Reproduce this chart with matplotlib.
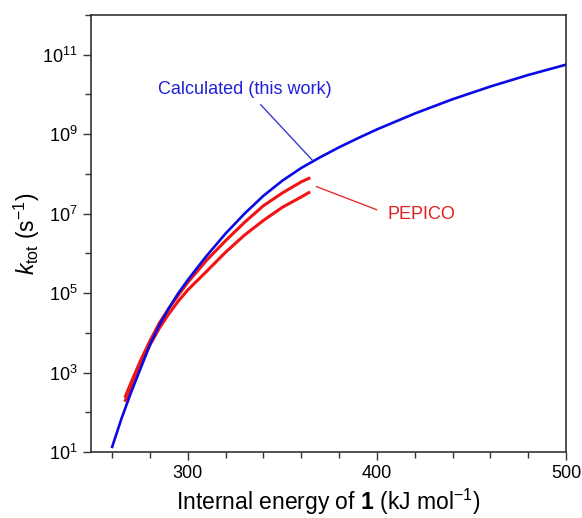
import matplotlib
matplotlib.use("Agg")
import matplotlib.pyplot as plt
from matplotlib.ticker import FixedLocator, LogFormatterMathtext, MultipleLocator

plt.rcParams['font.family'] = ['Liberation Sans', 'DejaVu Sans']
plt.rcParams['mathtext.fontset'] = 'custom'
plt.rcParams['mathtext.rm'] = 'Liberation Sans'
plt.rcParams['mathtext.it'] = 'Liberation Sans:italic'
plt.rcParams['mathtext.bf'] = 'Liberation Sans:bold'

# calculated k_tot (this work), log10 values
calc_E = [260, 265, 270, 275, 280, 285, 290, 295, 300, 305, 310, 320, 330, 340,
          350, 360, 370, 380, 390, 400, 420, 440, 460, 480, 500]
calc_logk = [1.13, 1.85, 2.5, 3.1, 3.7, 4.2, 4.62, 5.0, 5.33, 5.64, 5.94, 6.5, 7.0, 7.45,
             7.83, 8.15, 8.42, 8.67, 8.9, 9.12, 9.52, 9.88, 10.2, 10.49, 10.75]

# PEPICO curves
pep_E = [267, 270, 275, 280, 285, 290, 295, 300, 310, 320, 330, 340, 350, 360, 364]
pep_hi = [2.4, 2.75, 3.3, 3.8, 4.25, 4.62, 4.95, 5.27, 5.83, 6.32, 6.78, 7.2, 7.52, 7.8, 7.89]
pep_lo = [2.3, 2.65, 3.2, 3.7, 4.12, 4.48, 4.8, 5.08, 5.55, 6.03, 6.46, 6.83, 7.16, 7.42, 7.53]

blue = '#0a0ae6'
red = '#f01414'

fig = plt.figure(figsize=(5.82, 5.18), dpi=100)
ax = fig.add_axes([0.156, 0.1274, 0.8165, 0.8436])

ax.plot(calc_E, [10 ** v for v in calc_logk], color=blue, lw=1.9, zorder=3)
ax.plot(pep_E, [10 ** v for v in pep_hi], color=red, lw=2.2, zorder=2)
ax.plot(pep_E, [10 ** v for v in pep_lo], color=red, lw=2.2, zorder=2)

ax.set_yscale('log')
ax.set_xlim(248.7, 500)
ax.set_ylim(10 ** 1, 10 ** 12)

ax.xaxis.set_major_locator(FixedLocator([300, 400, 500]))
ax.xaxis.set_minor_locator(MultipleLocator(20))
ax.yaxis.set_major_locator(FixedLocator([10 ** p for p in range(1, 12, 2)]))
ax.yaxis.set_minor_locator(FixedLocator([10 ** p for p in range(2, 13, 2)]))
ax.yaxis.set_major_formatter(LogFormatterMathtext())
ax.yaxis.set_minor_formatter(plt.NullFormatter())

ax.tick_params(which='both', direction='out', top=False, right=False,
               color='#333333', width=1.0)
ax.tick_params(which='major', length=6, labelsize=13)
ax.tick_params(which='minor', length=4)
for s in ax.spines.values():
    s.set_color('#333333')
    s.set_linewidth(1.2)

ax.set_xlabel(r'Internal energy of $\mathbf{1}$ (kJ mol$^{-1}$)', fontsize=16.5, labelpad=3)
ax.set_ylabel(r'$k_{\mathrm{tot}}$ (s$^{-1}$)', fontsize=16.5, labelpad=0)

# annotations
ax.text(330.2, 10 ** 10.12, 'Calculated (this work)', color='#2020d8',
        fontsize=13, ha='center', va='center')
ax.plot([338.6, 365.6], [10 ** 9.74, 10 ** 8.36], color='#3a3ad0', lw=1.0)
ax.text(423.8, 10 ** 6.97, 'PEPICO', color='#e02020', fontsize=13,
        ha='center', va='center')
ax.plot([368.1, 399.8], [10 ** 7.68, 10 ** 7.1], color='#e03030', lw=1.0)

fig.savefig('out.png', dpi=100)
